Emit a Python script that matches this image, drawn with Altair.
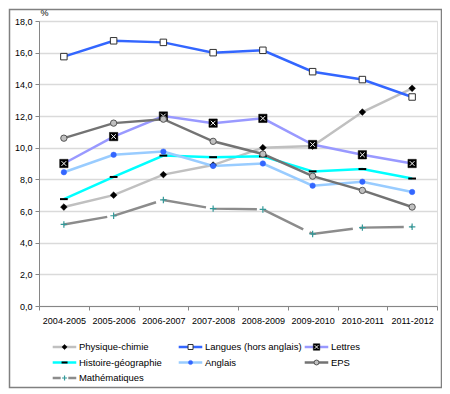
import altair as alt
import pandas as pd

years = ["2004-2005", "2005-2006", "2006-2007", "2007-2008",
         "2008-2009", "2009-2010", "2010-2011", "2011-2012"]

series = ["Physique-chimie", "Langues (hors anglais)", "Lettres",
          "Histoire-géographie", "Anglais", "EPS", "Mathématiques"]

physique = [6.25, 7.0, 8.3, 8.9, 10.0, 10.1, 12.25, 13.75]
langues = [15.75, 16.75, 16.65, 16.0, 16.15, 14.8, 14.3, 13.2]
lettres = [9.0, 10.7, 12.0, 11.55, 11.85, 10.2, 9.55, 9.0]
histoire = [6.75, 8.15, 9.5, 9.4, 9.45, 8.5, 8.65, 8.05]
anglais = [8.45, 9.55, 9.75, 8.85, 9.0, 7.6, 7.85, 7.2]
eps = [10.6, 11.55, 11.8, 10.4, 9.6, 8.2, 7.3, 6.25]
maths = [5.15, 5.7, 6.7, 6.15, 6.1, 4.55, 4.95, 5.0]

values = dict(zip(series, [physique, langues, lettres, histoire, anglais, eps, maths]))

# ---- styles (not data) ----
PLUS = "M-1,0L1,0M0,-1L0,1"
DASH = "M-1,0L1,0"
XPATH = "M-1,-1L1,1M-1,1L1,-1"
styles = {
    "Physique-chimie": dict(line="#c0c0c0", dash=None, ldash=None, markers=[
        dict(shape="diamond", size=45, filled=True, fill="#000000", stroke="#000000", strokeWidth=0.5)]),
    "Langues (hors anglais)": dict(line="#3366ff", dash=None, ldash=None, markers=[
        dict(shape="square", size=42, filled=True, fill="#ffffff", stroke="#333333", strokeWidth=1)]),
    "Lettres": dict(line="#9999ff", dash=None, ldash=None, markers=[
        dict(shape="square", size=70, filled=True, fill="#000000", stroke="#000000", strokeWidth=0.5),
        dict(shape=XPATH, size=22, filled=False, fill="transparent", stroke="#ffffff", strokeWidth=1)]),
    "Histoire-géographie": dict(line="#00ffff", dash=None, ldash=None, markers=[
        dict(shape=DASH, size=60, filled=False, fill="transparent", stroke="#000000", strokeWidth=2)]),
    "Anglais": dict(line="#99ccff", dash=None, ldash=None, markers=[
        dict(shape="circle", size=30, filled=True, fill="#3366ff", stroke="#3366ff", strokeWidth=0.5)]),
    "EPS": dict(line="#737373", dash=None, ldash=None, markers=[
        dict(shape="circle", size=40, filled=True, fill="#c0c0c0", stroke="#555555", strokeWidth=1)]),
    "Mathématiques": dict(line="#8c8c8c", dash=[44, 7], ldash=[8, 7.6], markers=[
        dict(shape=PLUS, size=42, filled=False, fill="transparent", stroke="#339999", strokeWidth=1.2)]),
}

rows = [dict(year=y, serie=s, value=v) for s in series for y, v in zip(years, values[s])]
df = pd.DataFrame(rows)

FONT = "Liberation Sans"

X = alt.X("year:N", sort=years,
          scale=alt.Scale(paddingInner=0, paddingOuter=0),
          axis=alt.Axis(title=None, labelAngle=0, tickBand="extent", grid=False,
                        domainColor="#868686", tickColor="#868686", tickSize=4,
                        labelPadding=6, labelFontSize=9, labelColor="#000000",
                        labelFont=FONT))
Y = alt.Y("value:Q", scale=alt.Scale(domain=[0, 18], nice=False, zero=True),
          axis=alt.Axis(values=list(range(0, 19, 2)),
                        labelExpr="replace(format(datum.value, '.1f'), '.', ',')",
                        title="%", titleAngle=0, titleX=1, titleY=-4,
                        titleAlign="left", titleBaseline="bottom",
                        titleFontSize=9, titleFontWeight="normal", titleFont=FONT,
                        titleColor="#000000",
                        grid=True, gridColor="#dadada", gridWidth=1.5,
                        domainColor="#868686", tickColor="#868686", tickSize=4,
                        labelPadding=3, labelFontSize=9, labelColor="#000000",
                        labelFont=FONT))

main_layers = []
for s in series:
    st = styles[s]
    base = alt.Chart(df).transform_filter(alt.datum.serie == s)
    lk = dict(color=st["line"], strokeWidth=2.5)
    if st["dash"]:
        lk["strokeDash"] = st["dash"]
    main_layers.append(base.mark_line(**lk).encode(x=X, y=Y))
for s in series:
    st = styles[s]
    base = alt.Chart(df).transform_filter(alt.datum.serie == s)
    for m in st["markers"]:
        main_layers.append(base.mark_point(
            shape=m["shape"], size=m["size"], filled=m["filled"], fill=m["fill"],
            stroke=m["stroke"], strokeWidth=m["strokeWidth"], opacity=1
        ).encode(x=X, y=Y))

frame = alt.Chart(pd.DataFrame({"a": [0]})).mark_rect(
    fill="transparent", stroke="#808080", strokeWidth=1.5
).encode(x=alt.value(-29.5), x2=alt.value(402.5), y=alt.value(-11.5), y2=alt.value(366.5))

main = alt.layer(*main_layers, frame)

# ---- legend ----
LX = alt.Scale(domain=[0, 2], range=[13.7, 265.7])
LY = alt.Scale(domain=[0, 2], range=[326, 357])
leg_layers = []
for i, s in enumerate(series):
    st = styles[s]
    col, row = i % 3, i // 3
    ldf = pd.DataFrame({"c": [col], "c2": [col + 0.187], "cm": [col + 0.094],
                        "ct": [col + 0.208], "r": [row], "label": [s]})
    lb = alt.Chart(ldf)
    rk = dict(color=st["line"], strokeWidth=2.5)
    if st["ldash"]:
        rk["strokeDash"] = st["ldash"]
    leg_layers.append(lb.mark_rule(**rk).encode(
        x=alt.X("c:Q", scale=LX, axis=None), x2="c2:Q",
        y=alt.Y("r:Q", scale=LY, axis=None)))
    for m in st["markers"]:
        leg_layers.append(lb.mark_point(
            shape=m["shape"], size=m["size"] * 0.6, filled=m["filled"], fill=m["fill"],
            stroke=m["stroke"], strokeWidth=m["strokeWidth"], opacity=1
        ).encode(x=alt.X("cm:Q", scale=LX, axis=None),
                 y=alt.Y("r:Q", scale=LY, axis=None)))
    leg_layers.append(lb.mark_text(align="left", baseline="middle", fontSize=9.5,
                                   font=FONT, color="#000000").encode(
        x=alt.X("ct:Q", scale=LX, axis=None),
        y=alt.Y("r:Q", scale=LY, axis=None), text="label:N"))

legend = alt.layer(*leg_layers)

chart = alt.layer(main, legend).resolve_scale(x="independent", y="independent").properties(
    width=398, height=285,
    autosize=alt.AutoSizeParams(type="none"),
    padding={"left": 31, "top": 13, "right": 5, "bottom": 83},
).configure_view(stroke=None).configure(font=FONT)

chart.save("out.html", embed_options={"renderer": "svg", "actions": False})
